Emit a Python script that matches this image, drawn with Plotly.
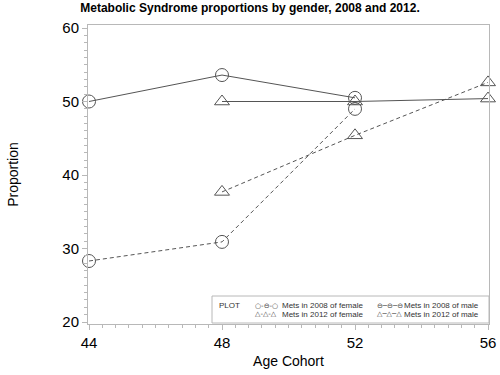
import plotly.graph_objects as go

# ---- data ----
age_cohorts = [44, 48, 52, 56]
mets2008_female = [28.3, 30.9, 49.0, None]
mets2008_male = [50.0, 53.6, 50.5, None]
mets2012_female = [None, 37.7, 45.4, 52.6]
mets2012_male = [None, 50.0, 50.0, 50.4]

series_names = ["Mets in 2008 of female", "Mets in 2008 of male",
                "Mets in 2012 of female", "Mets in 2012 of male"]
x_ticks = [44, 48, 52, 56]
y_ticks = [20, 30, 40, 50, 60]

LINE = "#555555"
FRAME = "#b8b8b8"
FONT = "Arial, Liberation Sans, sans-serif"

fig = go.Figure()

specs = [
    (mets2008_female, series_names[0], "circle-open", "4px,3px"),
    (mets2008_male, series_names[1], "circle-open", "solid"),
    (mets2012_female, series_names[2], "triangle-up-open", "4px,3px"),
    (mets2012_male, series_names[3], "triangle-up-open", "solid"),
]
for vals, name, sym, dash in specs:
    fig.add_trace(go.Scatter(
        x=age_cohorts, y=vals, name=name, mode="lines+markers",
        line=dict(color=LINE, width=1, dash=dash),
        marker=dict(symbol=sym, size=13, color=LINE, line=dict(color=LINE, width=1)),
        cliponaxis=False, showlegend=False,
    ))

# plot area geometry (pixels) used to place legend box
L, R, T, B = 88, 11, 25, 51
W, H = 500, 375
pw, ph = W - L - R, H - T - B

def px(xp):
    return (xp - L) / pw

def py(yp):
    return (H - B - yp) / ph

fig.add_shape(type="rect", xref="paper", yref="paper",
              x0=px(212), x1=1.0, y0=py(323), y1=py(296),
              line=dict(color=FRAME, width=1), fillcolor="white", layer="above")

row_y = [py(305.7), py(314.3)]
fig.add_annotation(text="PLOT", xref="paper", yref="paper", x=px(217), y=row_y[0],
                   xanchor="left", yanchor="middle", showarrow=False,
                   font=dict(family=FONT, size=8, color="#333333"))
samples = ["○-⊖-○", "⊖─⊖─⊖", "△-△-△", "△─△─△"]
pos = [(253, 280, 0), (375, 402, 0), (253, 280, 1), (375, 402, 1)]
for name, samp, (sx, tx, r) in zip(series_names, samples, pos):
    fig.add_annotation(text=samp, xref="paper", yref="paper", x=px(sx), y=row_y[r],
                       xanchor="left", yanchor="middle", showarrow=False,
                       font=dict(family="DejaVu Sans", size=7, color="#444444"))
    fig.add_annotation(text=name, xref="paper", yref="paper", x=px(tx), y=row_y[r],
                       xanchor="left", yanchor="middle", showarrow=False,
                       font=dict(family=FONT, size=8, color="#333333"))

fig.update_layout(
    width=W, height=H,
    margin=dict(l=L, r=R, t=T, b=B, pad=0, autoexpand=False),
    paper_bgcolor="white", plot_bgcolor="white",
    title=dict(text="<b>Metabolic Syndrome proportions by gender, 2008 and 2012.</b>",
               xref="container", x=0.5, xanchor="center",
               yref="container", y=1 - 8 / H, yanchor="middle",
               font=dict(family=FONT, size=12, color="black")),
    font=dict(family=FONT, color="black"),
)

fig.update_xaxes(
    range=[43.97, 56.03], tickvals=x_ticks, ticktext=[str(v) for v in x_ticks],
    showgrid=False, zeroline=False, showline=True, mirror=True, automargin=False,
    linecolor=FRAME, linewidth=1, ticks="outside", ticklen=5, tickcolor=FRAME,
    tickfont=dict(family=FONT, size=15, color="black"),
    minor=dict(dtick=0.4, tick0=44, ticks="outside", ticklen=3, tickcolor=FRAME, showgrid=False),
    title=dict(text="Age Cohort", font=dict(family=FONT, size=14, color="black"), standoff=6),
)
fig.update_yaxes(
    range=[19.73, 60.41], tickvals=y_ticks, ticktext=[str(v) for v in y_ticks],
    showgrid=False, zeroline=False, showline=True, mirror=True, automargin=False,
    linecolor=FRAME, linewidth=1, ticks="outside", ticklen=5, tickcolor=FRAME,
    tickfont=dict(family=FONT, size=15, color="black"),
    minor=dict(dtick=1, tick0=20, ticks="outside", ticklen=3, tickcolor=FRAME, showgrid=False),
    title=dict(text="Proportion", font=dict(family=FONT, size=14, color="black"), standoff=40),
)

fig.write_html("out.html", config={"displayModeBar": False},
               post_script="document.body.style.margin='0';")
